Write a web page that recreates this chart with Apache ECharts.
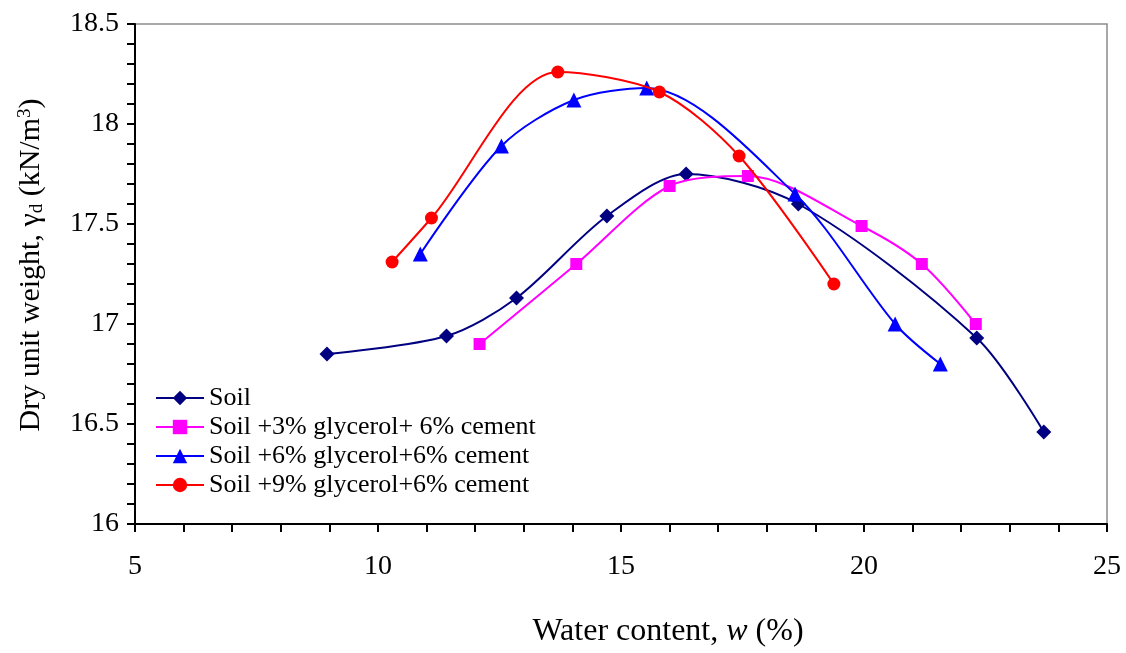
<!DOCTYPE html>
<html>
<head>
<meta charset="utf-8">
<script src="https://cdn.jsdelivr.net/npm/echarts@6/dist/echarts.min.js"></script>
<style>
html,body{margin:0;padding:0;background:#fff;}
#chart{width:1126px;height:653px;}
</style>
</head>
<body>
<div id="chart"></div>
<script>
// Data
const seriesNames = [
  'Soil',
  'Soil +3% glycerol+ 6% cement',
  'Soil +6% glycerol+6% cement',
  'Soil +9% glycerol+6% cement'
];
const soilX = [8.95, 11.41, 12.85, 14.71, 16.34, 18.65, 22.32, 23.70];
const soilY = [16.85, 16.94, 17.13, 17.54, 17.75, 17.60, 16.93, 16.46];
const g3X = [12.09, 14.08, 16.00, 17.61, 19.95, 21.19, 22.30];
const g3Y = [16.90, 17.30, 17.69, 17.74, 17.49, 17.30, 17.00];
const g6X = [10.87, 12.54, 14.03, 15.53, 18.58, 20.64, 21.57];
const g6Y = [17.35, 17.89, 18.12, 18.18, 17.65, 17.00, 16.80];
const g9X = [10.29, 11.10, 13.70, 15.79, 17.43, 19.38];
const g9Y = [17.31, 17.53, 18.26, 18.16, 17.84, 17.20];
const xTicks = [5, 10, 15, 20, 25];
const yTicks = [16, 16.5, 17, 17.5, 18, 18.5];

function pairs(xs, ys) { return xs.map((x, i) => [x, ys[i]]); }

const FONT = 'Liberation Serif';
const colors = ['#000080', '#FF00FF', '#0000FF', '#FF0000'];
const symbols = ['diamond', 'rect', 'triangle', 'circle'];
const sizes = [15, 12, 15, 13];
const datasets = [pairs(soilX, soilY), pairs(g3X, g3Y), pairs(g6X, g6Y), pairs(g9X, g9Y)];

const chart = echarts.init(document.getElementById('chart'), null, {renderer: 'canvas'});
chart.setOption({
  animation: false,
  backgroundColor: '#fff',
  textStyle: {fontFamily: FONT, color: '#000'},
  grid: {left: 135, right: 19, top: 24, bottom: 128, show: true, borderColor: '#8c8c8c', borderWidth: 1.5},
  legend: {
    orient: 'vertical', left: 150, top: 380, itemGap: 3,
    itemWidth: 48, itemHeight: 18,
    textStyle: {fontFamily: FONT, fontSize: 26, color: '#000'},
    data: seriesNames
  },
  xAxis: {
    type: 'value', min: xTicks[0], max: xTicks[xTicks.length - 1], interval: 5,
    name: 'Water content, {i|w} (%)', nameLocation: 'middle', nameGap: 92,
    nameTextStyle: {fontFamily: FONT, fontSize: 32, color: '#000', padding: [0, 0, 0, 94],
      rich: {i: {fontFamily: FONT, fontSize: 32, fontStyle: 'italic', color: '#000'}}},
    axisLine: {show: true, onZero: false, lineStyle: {color: '#000', width: 2}},
    axisTick: {show: true, inside: false, length: 8, lineStyle: {color: '#000', width: 2}},
    minorTick: {show: true, splitNumber: 5, length: 8, lineStyle: {color: '#000', width: 2}},
    splitLine: {show: false},
    axisLabel: {fontFamily: FONT, fontSize: 28, color: '#000', margin: 29}
  },
  yAxis: {
    type: 'value', min: yTicks[0], max: yTicks[yTicks.length - 1], interval: 0.5,
    name: '{a|Dry unit weight, γ}{sub|d}{a| (kN/m}{sup|3}{a|)}',
    nameLocation: 'middle', nameGap: 88, nameRotate: 90,
    nameTextStyle: {fontFamily: FONT, fontSize: 30, color: '#000', padding: [0, 0, 0, 18],
      rich: {
        a: {fontFamily: FONT, fontSize: 30, color: '#000'},
        sub: {fontFamily: FONT, fontSize: 19, color: '#000', padding: [12, 0, 0, 0]},
        sup: {fontFamily: FONT, fontSize: 19, color: '#000', padding: [0, 0, 12, 0]}
      }},
    axisLine: {show: true, onZero: false, lineStyle: {color: '#000', width: 2}},
    axisTick: {show: true, inside: false, length: 8, lineStyle: {color: '#000', width: 2}},
    minorTick: {show: true, splitNumber: 5, length: 8, lineStyle: {color: '#000', width: 2}},
    splitLine: {show: false},
    axisLabel: {fontFamily: FONT, fontSize: 28, color: '#000', margin: 16,
      formatter: v => String(v)}
  },
  series: datasets.map((d, i) => ({
    name: seriesNames[i], type: 'line', data: d,
    smooth: 0.3,
    symbol: symbols[i], symbolSize: sizes[i],
    itemStyle: {color: colors[i]},
    lineStyle: {color: colors[i], width: 2},
    z: 2 + i
  }))
});
</script>
</body>
</html>
